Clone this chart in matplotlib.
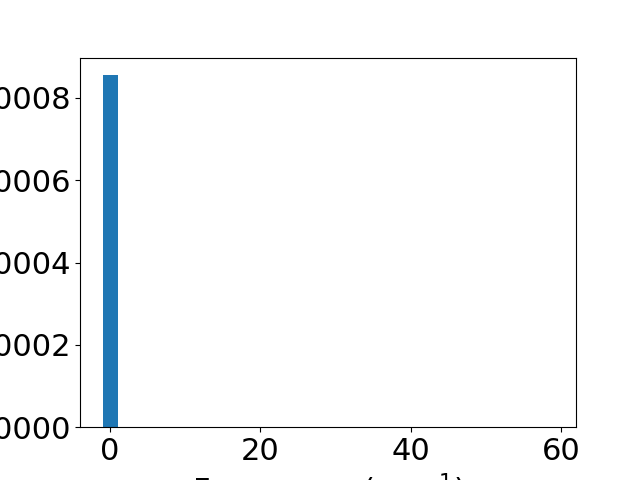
import matplotlib
matplotlib.use("Agg")
import matplotlib.pyplot as plt

bin_edges = [-1 + 2 * i for i in range(31)]
bin_heights = [0.000855] + [0.0] * 29

plt.rcParams['font.size'] = 22
fig, ax = plt.subplots(figsize=(6.4, 4.8), dpi=100)
ax.bar(bin_edges[:-1], bin_heights, width=2, align='edge', color='#1f77b4')
ax.set_xlabel("Frequency (cm$^{-1}$)")
fig.savefig("out.png")
